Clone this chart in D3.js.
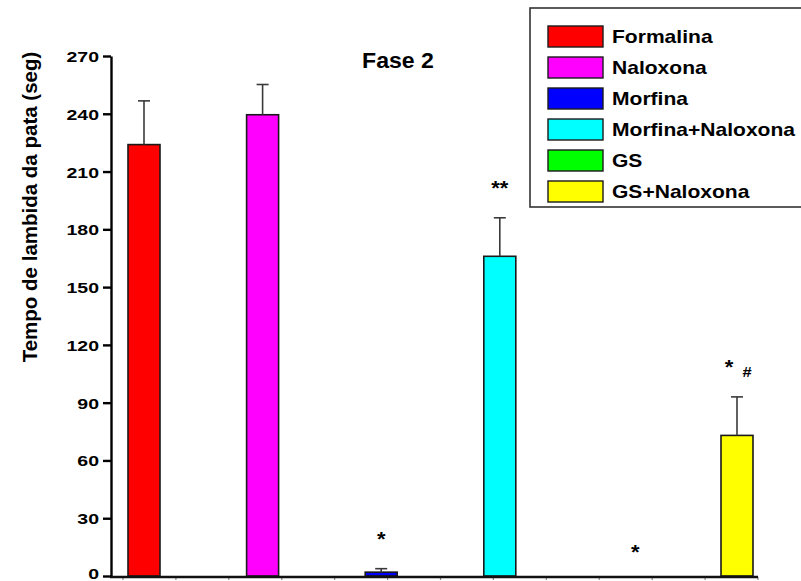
<!DOCTYPE html>
<html>
<head>
<meta charset="utf-8">
<script src="https://cdn.jsdelivr.net/npm/d3@7"></script>
<style>
  html, body { margin: 0; padding: 0; background: #fff; }
  svg { display: block; }
  text { font-family: "Liberation Sans", Arial, Helvetica, sans-serif; font-weight: bold; fill: #000; }
</style>
</head>
<body>
<svg id="chart" width="801" height="581"></svg>
<script>
// Paw-licking time, phase 2 (mean ± SEM, seconds)
const categories = ["Formalina", "Naloxona", "Morfina", "Morfina+Naloxona", "GS", "GS+Naloxona"];
const means      = [224, 239.5, 2, 166, 0, 73];
const sems       = [22.7, 15.7, 1.8, 20, 0, 20];
const colors     = ["#ff0000", "#ff00ff", "#0000ff", "#00ffff", "#00ff00", "#ffff00"];
const signif     = ["", "", "*", "**", "*", "*#"];
const yTicks     = [0, 30, 60, 90, 120, 150, 180, 210, 240, 270];

const svg = d3.select("#chart");

const y = d3.scaleLinear().domain([0, 270]).range([576, 56]);
const x = d3.scalePoint().domain(categories).range([144, 737]);
const minor = d3.scaleLinear().domain([0, 12]).range([123, 758]);
const barW = 32;

const data = categories.map((c, i) => ({ c, m: means[i], e: sems[i], col: colors[i], s: signif[i] }));

// horizontally widened bold text helper
function wideText(g, str, px, py, size, sx, anchor) {
  return g.append("text")
    .attr("transform", `translate(${px},${py}) scale(${sx},1)`)
    .attr("text-anchor", anchor || "start")
    .style("font-size", size + "px")
    .text(str);
}

// bars
svg.append("g").selectAll("rect").data(data).join("rect")
  .attr("x", d => x(d.c) - barW / 2)
  .attr("width", barW)
  .attr("y", d => y(d.m))
  .attr("height", d => y(0) - y(d.m))
  .attr("fill", d => d.col)
  .attr("stroke", "#1a1a1a")
  .attr("stroke-width", 1.6);

// error bars (upper only)
const eb = svg.append("g").attr("stroke", "#3a3a3a").attr("stroke-width", 1.6);
data.filter(d => d.e > 0).forEach(d => {
  const cx = x(d.c);
  eb.append("line").attr("x1", cx).attr("x2", cx).attr("y1", y(d.m)).attr("y2", y(d.m + d.e));
  eb.append("line").attr("x1", cx - 6).attr("x2", cx + 6).attr("y1", y(d.m + d.e)).attr("y2", y(d.m + d.e));
});

// x axis line with small minor ticks
svg.append("g").attr("stroke", "#888").attr("stroke-width", 1.2)
  .selectAll("line").data(d3.range(13)).join("line")
  .attr("x1", d => minor(d)).attr("x2", d => minor(d))
  .attr("y1", 577).attr("y2", 580);
svg.append("line").attr("x1", 110).attr("x2", 758).attr("y1", 577).attr("y2", 577)
  .attr("stroke", "#111").attr("stroke-width", 2.4);

// y axis
const yAxis = d3.axisLeft(y).tickValues(yTicks).tickSize(8).tickSizeOuter(0).tickFormat(d3.format("d"));
const ya = svg.append("g").attr("transform", "translate(111,0)").call(yAxis);
ya.select(".domain").attr("stroke", "#000").attr("stroke-width", 2.4);
ya.selectAll(".tick line").attr("stroke", "#000").attr("stroke-width", 2.4);
ya.selectAll(".tick text").remove();
ya.selectAll(".tick").each(function (d) {
  // keep the bottom label inside the drawing area
  const dy = Math.min(5.5, 578 - y(d));
  wideText(d3.select(this), d3.format("d")(d), -12, dy, 15, 1.3, "end");
});

// y axis title
svg.append("text")
  .attr("transform", "translate(37,207) rotate(-90)")
  .attr("text-anchor", "middle")
  .style("font-size", "20.5px")
  .text("Tempo de lambida da pata (seg)");

// chart title
wideText(svg, "Fase 2", 398, 68, 22, 1.05, "middle");

// significance marks above the bars
const marks = svg.append("g");
data.forEach(d => {
  if (!d.s) return;
  const cx = x(d.c);
  if (d.s === "*#") {
    const top = y(d.m + d.e) - 33;
    wideText(marks, "*", cx - 8, top + 10, 20, 1.1, "middle");
    wideText(marks, "#", cx + 10, top + 13, 15, 1.1, "middle");
  } else if (d.m === 0) {
    wideText(marks, d.s, cx + 17, y(0) - 17, 20, 1.1, "middle");
  } else {
    const top = y(d.m + d.e) - 33;
    wideText(marks, d.s, cx, top + 10, 20, 1.1, "middle");
  }
});

// legend
const lg = svg.append("g");
lg.append("rect").attr("x", 530).attr("y", 8).attr("width", 290).attr("height", 199)
  .attr("fill", "#fff").attr("stroke", "#333").attr("stroke-width", 1.6);
data.forEach((d, i) => {
  const ry = 26 + i * 31;
  lg.append("rect").attr("x", 548).attr("y", ry).attr("width", 55).attr("height", 21)
    .attr("fill", d.col).attr("stroke", "#1a1a1a").attr("stroke-width", 1.4);
  wideText(lg, d.c, 612, ry + 17, 18, 1.17, "start");
});
</script>
</body>
</html>
